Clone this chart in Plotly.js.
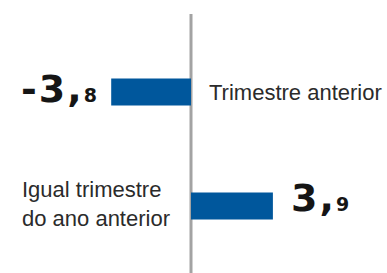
<!DOCTYPE html>
<html>
<head>
<meta charset="utf-8">
<script src="https://cdn.plot.ly/plotly-3.0.1.min.js"></script>
<style>
html,body{margin:0;padding:0;background:#fff;}
#chart{width:387px;height:273px;}
</style>
</head>
<body>
<div id="chart"></div>
<script>
// Data
const categories = ["Trimestre anterior", "Igual trimestre<br>do ano anterior"];
const values = [-3.8, 3.9];

const barColor = "#00579C";
const textColor = "#2b2b2b";

function fmtValue(v) {
  const parts = v.toFixed(1).split(".");
  return "<b><span style=\"letter-spacing:2px\">" + parts[0] + ",</span></b><b><span style=\"font-size:19px\">" + parts[1] + "</span></b>";
}

const trace = {
  type: "bar",
  orientation: "h",
  x: values,
  y: categories,
  marker: {color: barColor},
  width: 0.237,
  hoverinfo: "none"
};

const annotations = [];
values.forEach((v, i) => {
  const neg = v < 0;
  annotations.push({
    x: v, y: categories[i], xref: "x", yref: "y",
    text: fmtValue(v),
    showarrow: false,
    xanchor: neg ? "right" : "left",
    yanchor: "middle",
    xshift: neg ? -12 : 16,
    yshift: neg ? 3 : 8,
    font: {family: "DejaVu Sans", size: 38, color: "#151515"}
  });
  annotations.push({
    x: 0, y: categories[i], xref: "x", yref: "y",
    text: categories[i],
    showarrow: false,
    xanchor: neg ? "left" : "right",
    align: "left",
    yanchor: "middle",
    xshift: neg ? 16 : -19,
    yshift: neg ? -1 : 2,
    font: {family: "Liberation Sans", size: 22, color: textColor}
  });
});

const layout = {
  width: 387, height: 273,
  margin: {l: 0, r: 0, t: 0, b: 0},
  paper_bgcolor: "#fff", plot_bgcolor: "#fff",
  showlegend: false,
  xaxis: {range: [-9.095, 9.333], visible: false, showgrid: false, zeroline: false, fixedrange: true},
  yaxis: {range: [1.588, -0.807], visible: false, showgrid: false, zeroline: false, fixedrange: true},
  shapes: [{
    type: "line", xref: "x", yref: "paper",
    x0: 0, x1: 0, y0: 0, y1: 0.949,
    line: {color: "#A3A3A3", width: 3},
    layer: "below"
  }],
  annotations: annotations
};

Plotly.newPlot("chart", [trace], layout, {displayModeBar: false, staticPlot: true});
</script>
</body>
</html>
